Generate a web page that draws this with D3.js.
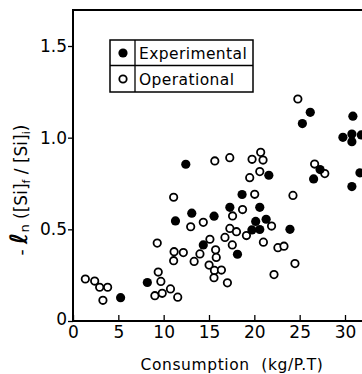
<!DOCTYPE html>
<html>
<head>
<meta charset="utf-8">
<script src="https://cdn.jsdelivr.net/npm/d3@7"></script>
<style>
  body { margin: 0; background: #fff; }
  svg { display: block; }
  text { font-family: "DejaVu Sans", sans-serif; fill: #000; }
</style>
</head>
<body>
<svg id="chart" width="362" height="374"></svg>
<script>
// consumption (kg/P.T) vs -ln([Si]f/[Si]i)
const experimental = [
  [5.25, 0.127], [8.2, 0.21], [11.3, 0.546], [13.1, 0.588], [15.56, 0.572],
  [17.3, 0.62], [18.65, 0.69], [20.6, 0.62], [20.15, 0.543], [21.3, 0.555],
  [19.73, 0.497], [20.6, 0.499], [23.93, 0.5], [14.37, 0.415], [18.14, 0.364],
  [12.44, 0.855], [21.6, 0.795], [26.17, 1.138], [25.3, 1.077], [30.87, 1.117],
  [29.77, 1.002], [30.76, 1.02], [30.76, 0.978], [31.8, 1.015], [27.25, 0.826],
  [26.54, 0.775], [31.65, 0.808], [30.76, 0.733]
];

const operational = [
  [1.36, 0.229], [2.39, 0.218], [2.94, 0.184], [3.82, 0.184], [3.3, 0.113],
  [9.29, 0.425], [9.4, 0.267], [9.69, 0.216], [9.03, 0.138], [9.84, 0.151],
  [10.75, 0.175], [11.1, 0.675], [11.15, 0.378], [12.17, 0.373], [11.1, 0.329],
  [11.55, 0.13], [12.98, 0.514], [14.37, 0.538], [18.7, 0.608], [17.6, 0.573],
  [17.3, 0.505], [18.03, 0.487], [16.76, 0.456], [19.13, 0.466], [21.0, 0.43],
  [21.9, 0.518], [15.1, 0.446], [17.57, 0.415], [15.73, 0.388], [14.0, 0.366],
  [15.8, 0.347], [13.36, 0.325], [15.01, 0.305], [15.6, 0.276], [16.37, 0.278],
  [15.55, 0.236], [17.03, 0.208], [22.6, 0.4], [23.27, 0.408], [24.48, 0.313],
  [22.17, 0.253], [20.04, 0.691], [24.26, 0.685], [15.64, 0.873], [17.29, 0.891],
  [19.75, 0.882], [20.7, 0.92], [20.96, 0.878], [19.49, 0.782], [20.6, 0.815],
  [24.8, 1.211], [26.65, 0.856], [27.77, 0.804]
];

const xTicks = [0, 5, 10, 15, 20, 25, 30];
const yTicks = [0, 0.5, 1.0, 1.5];
const legendLabels = ["Experimental", "Operational"];

const svg = d3.select("#chart");

const plotLeft = 73, plotBottom = 321, plotTop = 10, plotRight = 362;

const x = d3.scaleLinear().domain([0, 30]).range([plotLeft, 345]);
const y = d3.scaleLinear().domain([0, 1.5]).range([plotBottom, 46]);

// x axis, ticks pointing up into the plot
const xAxis = svg.append("g")
  .attr("transform", `translate(0,${plotBottom})`)
  .call(d3.axisBottom(x).tickValues(xTicks).tickSizeInner(-6).tickSizeOuter(0).tickPadding(5));
xAxis.select(".domain").remove();
xAxis.selectAll(".tick line").attr("stroke-width", 1.3);
xAxis.selectAll(".tick text").attr("font-size", 17).attr("fill", "#000")
  .style("font-family", "DejaVu Sans, sans-serif");

// y axis, ticks outward
const yAxis = svg.append("g")
  .attr("transform", `translate(${plotLeft},0)`)
  .call(d3.axisLeft(y).tickValues(yTicks).tickSize(5).tickPadding(1)
    .tickFormat(d => d === 0 ? "0" : d.toFixed(1)));
yAxis.select(".domain").remove();
yAxis.selectAll(".tick line").attr("stroke-width", 1.3);
yAxis.selectAll(".tick text").attr("font-size", 17).attr("fill", "#000")
  .style("font-family", "DejaVu Sans, sans-serif");
yAxis.selectAll(".tick text").filter(d => d === 0).attr("dy", "0.2em");

// frame
svg.append("path")
  .attr("d", `M${plotRight},${plotTop}H${plotLeft}V${plotBottom}H${plotRight}`)
  .attr("fill", "none")
  .attr("stroke", "#000")
  .attr("stroke-width", 2);

// points
svg.append("g").selectAll("circle")
  .data(operational)
  .join("circle")
  .attr("cx", d => x(d[0]))
  .attr("cy", d => y(d[1]))
  .attr("r", 3.7)
  .attr("fill", "#fff")
  .attr("stroke", "#000")
  .attr("stroke-width", 1.8);

svg.append("g").selectAll("circle")
  .data(experimental)
  .join("circle")
  .attr("cx", d => x(d[0]))
  .attr("cy", d => y(d[1]))
  .attr("r", 4.6)
  .attr("fill", "#000");

// legend
const lg = svg.append("g");
lg.append("rect")
  .attr("x", 110).attr("y", 40).attr("width", 143).attr("height", 52)
  .attr("fill", "#fff").attr("stroke", "#000").attr("stroke-width", 1.5);
lg.append("line").attr("x1", 110).attr("x2", 253).attr("y1", 65.5).attr("y2", 65.5)
  .attr("stroke", "#000").attr("stroke-width", 1.3);
lg.append("line").attr("x1", 135).attr("x2", 135).attr("y1", 40).attr("y2", 92)
  .attr("stroke", "#000").attr("stroke-width", 1.3);
lg.append("circle").attr("cx", 123).attr("cy", 53).attr("r", 4.6).attr("fill", "#000");
lg.append("circle").attr("cx", 123).attr("cy", 79).attr("r", 3.7)
  .attr("fill", "#fff").attr("stroke", "#000").attr("stroke-width", 1.8);
lg.selectAll("text.lbl")
  .data(legendLabels)
  .join("text")
  .attr("class", "lbl")
  .attr("x", 139)
  .attr("y", (d, i) => 58.5 + i * 26)
  .attr("font-size", 15.5)
  .attr("letter-spacing", 0.4)
  .text(d => d);

// axis titles
svg.append("text")
  .attr("x", 232).attr("y", 370)
  .attr("text-anchor", "middle")
  .attr("font-size", 15.5)
  .attr("letter-spacing", 0.6)
  .attr("word-spacing", 6)
  .text("Consumption  (kg/P.T)");

const yt = svg.append("text")
  .attr("transform", "translate(27,190) rotate(-90)")
  .attr("text-anchor", "middle")
  .attr("font-size", 17);
yt.append("tspan").text("- ");
yt.append("tspan").attr("font-size", 24).attr("font-style", "italic").attr("font-weight", "bold").text("ℓ");
yt.append("tspan").attr("font-size", 13).attr("dy", 2).text("n");
yt.append("tspan").attr("dy", -2).text(" ([Si]");
yt.append("tspan").attr("font-size", 11).attr("dy", 3).text("f");
yt.append("tspan").attr("dy", -3).text(" / [Si]");
yt.append("tspan").attr("font-size", 11).attr("dy", 3).text("i");
yt.append("tspan").attr("dy", -3).text(")");
</script>
</body>
</html>
